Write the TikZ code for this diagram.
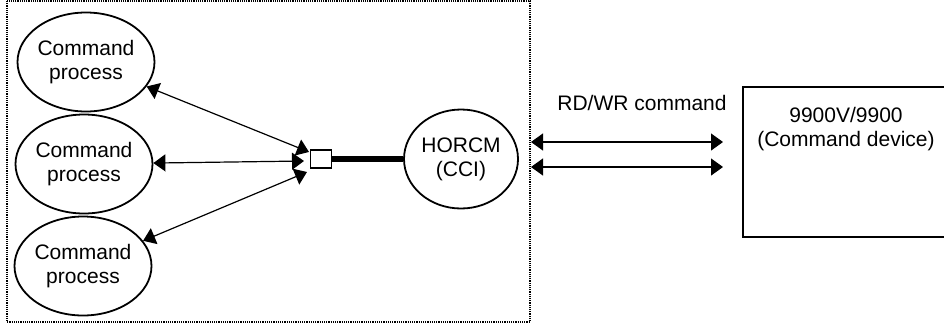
\documentclass[tikz,border=0pt]{standalone}
\usepackage{fontspec}
\setmainfont{Liberation Sans}
\usetikzlibrary{shapes.geometric,arrows.meta,positioning}

\begin{document}
\begin{tikzpicture}
		[x=1pt,y=-1pt,
		every node/.style={font=\fontsize{21}{24}\selectfont},
		proc/.style={draw,ellipse,line width=1.8pt,inner sep=0pt,
			minimum width=114pt,minimum height=99pt,align=center},
		link/.style={line width=1.2pt,{Triangle[length=12pt,width=17pt]}-{Triangle[length=12pt,width=17pt]}}]
		\useasboundingbox (0,0) rectangle (944,325);
		% host side
		\draw[line width=1.2pt,dash pattern=on 1.2pt off 1pt] (7,1) rectangle (530,322);
		\node[proc] (cmdA) at (86,62) {Command\\process};
		\node[proc] (cmdB) at (84,164) {Command\\process};
		\node[proc] (cmdC) at (83,266) {Command\\process};
		\node[draw,line width=1.6pt,minimum width=21pt,minimum height=18pt,inner sep=0pt] (port) at (321,159) {};
		\node[proc] (horcm) at (461,159) {HORCM\\(CCI)};
		\draw[line width=6pt] (port) -- (horcm);
		\coordinate (inA) at (309,152);
		\coordinate (inB) at (304,161);
		\coordinate (inC) at (307,172);
		\draw[link] (cmdA) -- (inA);
		\draw[link] (cmdB) -- (inB);
		\draw[link] (cmdC) -- (inC);
		% storage side
		\node[draw,line width=1.6pt,minimum width=206pt,minimum height=150pt,inner sep=0pt] (dev) at (846,162) {};
		\node[align=center,below=21pt of dev.north,inner sep=0pt] (devtext) {9900V/9900\\(Command device)};
		\coordinate (outA) at (531,142);
		\coordinate (outB) at (531,167);
		\coordinate (endA) at (723,142);
		\coordinate (endB) at (723,167);
		\draw[link] (outA) -- (endA);
		\draw[link] (outB) -- (endB);
		\node (rdwr) at (642,103) {RD/WR command};
\end{tikzpicture}
\end{document}
